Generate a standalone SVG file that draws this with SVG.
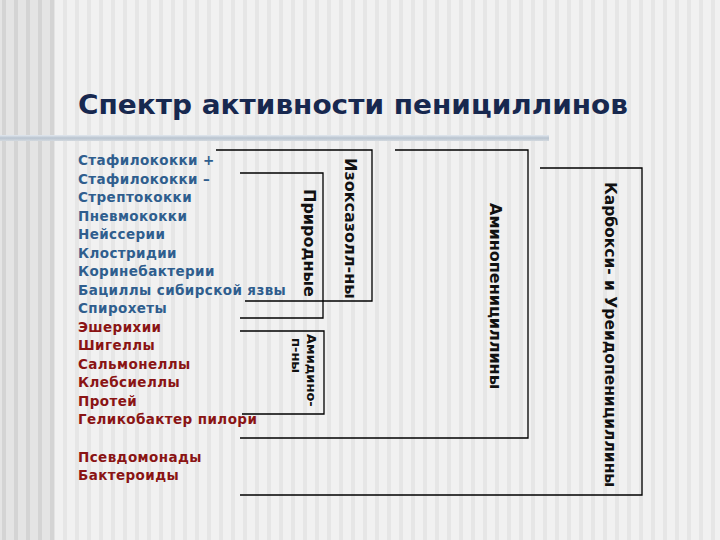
<svg xmlns="http://www.w3.org/2000/svg" width="720" height="540" viewBox="0 0 720 540">
<defs>
<pattern id="stripes" x="0" y="0" width="12" height="10" patternUnits="userSpaceOnUse">
<rect width="12" height="10" fill="#f1f1f1"/>
<rect x="3" width="4" height="10" fill="#e6e6e6"/>
</pattern>
<pattern id="stripesDark" x="0" y="0" width="12" height="10" patternUnits="userSpaceOnUse">
<rect width="12" height="10" fill="#e4e4e4"/>
<rect x="2" width="4" height="10" fill="#d4d4d4"/>
</pattern>
<linearGradient id="bar" x1="0" y1="0" x2="0" y2="1">
<stop offset="0" stop-color="#e2e8ef"/>
<stop offset="0.5" stop-color="#b9c4d0"/>
<stop offset="1" stop-color="#d3d9df"/>
</linearGradient>
<style>
.title{font-family:"DejaVu Sans",Verdana,sans-serif;font-weight:bold;font-size:26px;fill:#17284f}
.item{font-family:"DejaVu Sans",Verdana,sans-serif;font-weight:bold;font-size:13.5px;letter-spacing:0.4px}
.gp{fill:#2f5e8e}
.gn{fill:#8a1414}
.lbl{font-family:"DejaVu Sans",Verdana,sans-serif;font-weight:bold;fill:#111}
.br{fill:none;stroke:#000;stroke-width:1.3}
</style>
</defs>
<rect width="720" height="540" fill="url(#stripes)"/>
<rect width="55" height="540" fill="url(#stripesDark)"/>
<rect x="0" y="135" width="549" height="6" fill="url(#bar)"/>

<text class="title" x="78" y="114" textLength="550" lengthAdjust="spacingAndGlyphs">Спектр активности пенициллинов</text>

<g id="organisms">
<text class="item gp" x="78" y="165">Стафилококки +</text>
<text class="item gp" x="78" y="184">Стафилококки –</text>
<text class="item gp" x="78" y="202">Стрептококки</text>
<text class="item gp" x="78" y="221">Пневмококки</text>
<text class="item gp" x="78" y="239">Нейссерии</text>
<text class="item gp" x="78" y="258">Клостридии</text>
<text class="item gp" x="78" y="276">Коринебактерии</text>
<text class="item gp" x="78" y="295">Бациллы сибирской язвы</text>
<text class="item gp" x="78" y="313">Спирохеты</text>
<text class="item gn" x="78" y="332">Эшерихии</text>
<text class="item gn" x="78" y="350">Шигеллы</text>
<text class="item gn" x="78" y="369">Сальмонеллы</text>
<text class="item gn" x="78" y="387">Клебсиеллы</text>
<text class="item gn" x="78" y="406">Протей</text>
<text class="item gn" x="78" y="424">Геликобактер пилори</text>
<text class="item gn" x="78" y="462">Псевдомонады</text>
<text class="item gn" x="78" y="480">Бактероиды</text>
</g>

<g id="connectors">
<path id="br-iso" class="br" d="M216,150 H372 V301 H245"/>
<path id="br-nat" class="br" d="M240,173 H323 V318 H240"/>
<path id="br-amid" class="br" d="M240,331 H324 V414 H242"/>
<path id="br-amino" class="br" d="M395,150 H528 V438 H240"/>
<path id="br-carb" class="br" d="M540,168 H642 V495 H240"/>
</g>

<g id="iso">
<text class="lbl" font-size="16" transform="translate(345,158) rotate(90)">Изоксазолл-ны</text>
</g>
<g id="nat">
<text class="lbl" font-size="16" transform="translate(304,189) rotate(90)">Природные</text>
</g>
<g id="amid">
<text class="lbl" font-size="13" transform="translate(307,334) rotate(90)">Амидино-</text>
<text class="lbl" font-size="13" transform="translate(292,338) rotate(90)">п-ны</text>
</g>
<g id="amino">
<text class="lbl" font-size="16" transform="translate(490,203) rotate(90)">Аминопенициллины</text>
</g>
<g id="carb">
<text class="lbl" font-size="15.5" transform="translate(605,182) rotate(90)">Карбокси- и Уреидопенициллины</text>
</g>
</svg>
